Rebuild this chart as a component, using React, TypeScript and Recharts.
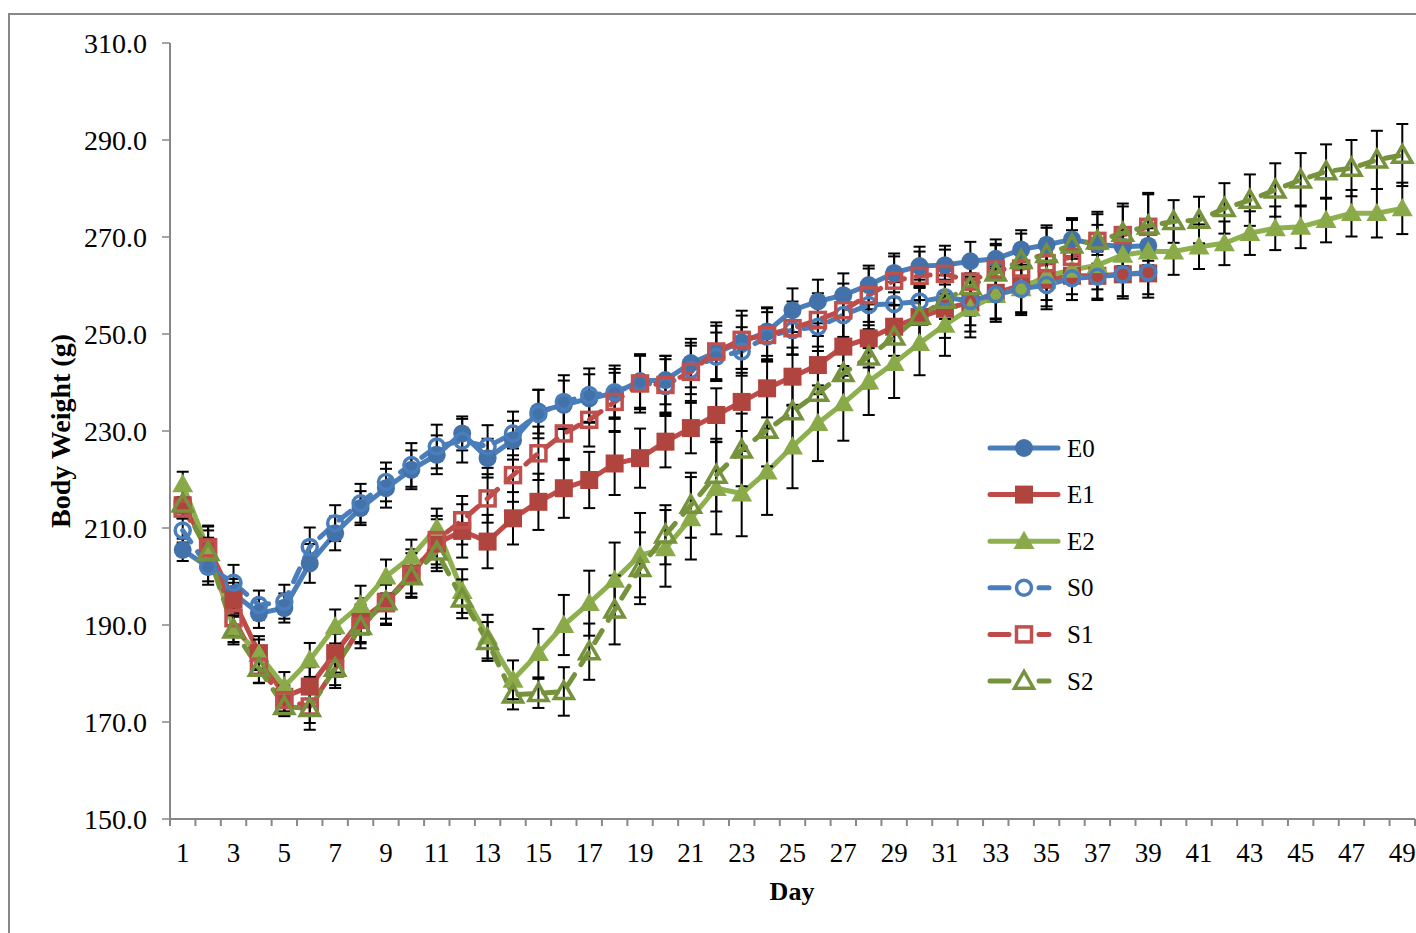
import { LineChart, Line, XAxis, YAxis, ErrorBar } from 'recharts';

const days = [
  1, 2, 3, 4, 5, 6, 7, 8, 9, 10, 11, 12, 13, 14, 15, 16, 17, 18, 19, 20, 21, 22, 23, 24, 25,
  26, 27, 28, 29, 30, 31, 32, 33, 34, 35, 36, 37, 38, 39, 40, 41, 42, 43, 44, 45, 46, 47, 48, 49,
];

const yTicks = [150, 170, 190, 210, 230, 250, 270, 290, 310];

const e0 = [
  205.5, 202, 196.5, 192.4, 193.5, 202.7, 208.9, 214.1, 218.2, 222, 225.1, 229.5, 224.4, 228.1,
  234.0, 235.4, 236.7, 237.8, 240.3, 240.5, 244.0, 246.2, 248.3, 250.5, 254.9, 256.7, 258.0,
  260.1, 262.6, 264.0, 264.2, 265.0, 265.5, 267.4, 268.4, 269.5, 268.5, 268.0, 268.2,
];
const e0Err = [
  2.3, 3.7, 3, 3, 3, 4, 3.5, 3.5, 4, 4, 4, 3.5, 4, 4, 4.5, 5, 5, 5, 5.5, 5, 5, 5.5, 5.5, 5, 4.5,
  4.5, 4.5, 4, 4, 4, 4, 4, 4, 4, 4, 4, 4, 4, 4,
];

const e1 = [
  214.7, 206.1, 195.2, 184.2, 175.2, 177.3, 184.2, 191.0, 194.8, 200.6, 206.8, 209.4, 207.2,
  212.0, 215.4, 218.2, 219.9, 223.3, 224.4, 227.8, 230.6, 233.3, 236.0, 238.8, 241.2, 243.6,
  247.4, 249.1, 251.5, 253.5, 255.2, 256.5, 258.5, 260.0, 261.2, 262.0, 262.0, 262.3, 262.5,
];
const e1Err = [
  1.5, 4.4, 3.5, 3.5, 3, 4, 4, 4.5, 4.5, 5, 5, 5.5, 5.5, 5.4, 5.8, 6.1, 5.8, 6.5, 6.1, 5.3, 5.2,
  5.5, 6, 6, 6, 6, 6, 6, 6, 6, 6, 6, 5.5, 5.5, 5.5, 5, 5, 5, 5,
];

const e2 = [
  219.0, 205.5, 189.5, 184.0, 177.3, 182.8, 189.7, 194.1, 200.0, 204.1, 210.0, 197.0, 187.6,
  178.7, 184.2, 190.0, 194.5, 199.3, 204.4, 205.8, 212.0, 218.2, 217.1, 221.6, 226.8, 231.6,
  235.7, 240.2, 244.0, 248.1, 251.9, 255.3, 258.0, 259.4, 262.0, 263.2, 264.2, 266.3, 267.0,
  267.0, 268.0, 268.7, 270.8, 271.8, 272.1, 273.5, 274.9, 274.9, 275.9,
];
const e2Err = [
  2.6, 4, 3, 3, 3, 3.5, 3.5, 4, 3.5, 3.5, 4, 4.5, 4.5, 4, 5, 6.2, 6.7, 7.7, 8.7, 7.9, 8.5, 9.5,
  8.8, 8.9, 8.6, 7.8, 7.7, 6.9, 7.2, 6.6, 6.4, 6, 5.5, 5.5, 5, 5, 5, 5, 4.8, 4.8, 4.6, 4.5, 4.5,
  4.5, 4.4, 4.6, 4.8, 5, 5.3,
];

const s0 = [
  209.5, 202, 198.7, 194.1, 194.8, 206.1, 211.0, 215.1, 219.5, 223.0, 226.8, 228.0, 226.8,
  229.5, 233.5, 236.0, 237.4, 238.0, 240.0, 239.3, 242.6, 245.3, 246.4, 249.5, 250.8, 251.5,
  253.9, 256.0, 256.2, 256.7, 257.6, 256.8, 258.2, 259.3, 260.1, 261.5, 261.8, 262.3, 262.7,
];
const s0Err = [
  2.5, 3, 3.7, 3, 3.5, 4, 3.7, 4, 4, 4.5, 4.5, 4.5, 4.4, 4.5, 5, 5.5, 5.5, 5.5, 5.5, 5.5, 5, 5,
  5, 5, 5, 5, 5, 5, 4.5, 4.5, 4.5, 5, 5, 5, 5, 4.5, 4.5, 4.5, 4.5,
];

const s1 = [
  214.0, 205.8, 191.4, 181.4, 174.5, 173.2, 181.0, 189.7, 194.5, 200.3, 207.5, 211.6, 216.1,
  220.9, 225.4, 229.5, 232.3, 236.0, 239.8, 239.5, 242.2, 246.4, 248.8, 249.8, 251.2, 252.9,
  254.9, 258.0, 261.0, 262.0, 262.4, 260.8, 263.3, 263.5, 264.6, 265.9, 269.2, 270.4, 272.1,
];
const s1Err = [
  2, 4.5, 3.5, 3.4, 3, 4.8, 4, 4.5, 4.5, 4.5, 5, 5, 5, 5.5, 5.5, 5.5, 5.5, 6, 6, 6, 6, 6, 6, 5.5,
  5.5, 5.5, 5.5, 5.5, 5, 5, 5, 5, 5, 5, 5, 5.5, 6, 6.5, 7,
];

const s2 = [
  215.0, 205.0, 189.0, 181.1, 173.2, 172.8, 181.1, 189.7, 194.8, 200.0, 205.1, 195.4, 186.6,
  175.6, 175.9, 176.3, 184.5, 193.1, 201.7, 208.6, 214.7, 220.9, 226.1, 230.2, 234.0, 237.8,
  241.9, 245.3, 249.4, 253.7, 257.0, 259.8, 262.6, 265.2, 266.4, 268.4, 269.2, 270.8, 272.3,
  273.2, 273.5, 275.9, 277.6, 279.7, 281.8, 283.5, 284.2, 285.9, 286.9,
];
const s2Err = [
  3, 3, 3, 3, 2, 3, 3.5, 3.5, 3.5, 3.5, 4, 4, 4, 3, 3, 5, 5.8, 7.1, 7.4, 6.1, 6.7, 7.5, 7.5, 7.5,
  7.5, 7, 7, 6.5, 6.5, 6, 6, 6, 6, 5.5, 5.5, 5.5, 5.5, 5.5, 6.5, 4.4, 4.8, 5.2, 5.3, 5.5, 5.5,
  5.6, 5.8, 6, 6.4,
];

const data = days.map((day, i) => ({
  day,
  E0: e0[i] ?? null,
  E0err: e0Err[i] ?? null,
  E1: e1[i] ?? null,
  E1err: e1Err[i] ?? null,
  E2: e2[i] ?? null,
  E2err: e2Err[i] ?? null,
  S0: s0[i] ?? null,
  S0err: s0Err[i] ?? null,
  S1: s1[i] ?? null,
  S1err: s1Err[i] ?? null,
  S2: s2[i] ?? null,
  S2err: s2Err[i] ?? null,
}));

const FONT = '"Liberation Serif", "DejaVu Serif", serif';
const AXIS = '#878787';
const BLUE = '#4A7EBB';
const RED = '#BE4B48';
const GREEN = '#8EB04F';
const DKGREEN = '#76923C';
const BAND = 1245 / 49;
const DASH = '14 12';

type Shape = 'circle' | 'square' | 'triangle';

interface MarkerProps {
  shape: Shape;
  filled: boolean;
  color: string;
  cx: number;
  cy: number;
}

const Marker = ({ shape, filled, color, cx, cy }: MarkerProps) => {
  const fill = filled ? color : 'none';
  const sw = filled ? 0 : 3.5;
  if (shape === 'circle') {
    return <circle cx={cx} cy={cy} r={filled ? 9 : 7.5} fill={fill} stroke={color} strokeWidth={sw} />;
  }
  if (shape === 'square') {
    const s = filled ? 18 : 15;
    return <rect x={cx - s / 2} y={cy - s / 2} width={s} height={s} fill={fill} stroke={color} strokeWidth={sw} />;
  }
  const h = filled ? 1.05 : 0.95;
  const pts = `${cx},${cy - 10 * h} ${cx - 10 * h},${cy + 7.5 * h} ${cx + 10 * h},${cy + 7.5 * h}`;
  return <polygon points={pts} fill={fill} stroke={color} strokeWidth={sw} strokeLinejoin="miter" />;
};

const makeDot = (shape: Shape, filled: boolean, color: string) => (props: any) => {
  const { cx, cy, index } = props;
  if (cx == null || cy == null || Number.isNaN(cy)) return <g key={index} />;
  return (
    <g key={index}>
      <Marker shape={shape} filled={filled} color={color} cx={cx} cy={cy} />
    </g>
  );
};

const series = [
  { key: 'E0', color: BLUE, mark: '#4372AA', shape: 'circle' as Shape, filled: true, dashed: false },
  { key: 'E1', color: RED, mark: '#B0443F', shape: 'square' as Shape, filled: true, dashed: false },
  { key: 'E2', color: GREEN, mark: '#8AAA4A', shape: 'triangle' as Shape, filled: true, dashed: false },
  { key: 'S0', color: BLUE, mark: '#4A7EBB', shape: 'circle' as Shape, filled: false, dashed: true },
  { key: 'S1', color: RED, mark: '#C0504D', shape: 'square' as Shape, filled: false, dashed: true },
  { key: 'S2', color: DKGREEN, mark: DKGREEN, shape: 'triangle' as Shape, filled: false, dashed: true },
];

const DayTick = (props: any) => {
  const { x, y, payload, index } = props;
  const half = BAND / 2;
  return (
    <g>
      <line x1={x - half} x2={x - half} y1={y} y2={y + 7} stroke={AXIS} strokeWidth={2} />
      {index === days.length - 1 && (
        <line x1={x + half} x2={x + half} y1={y} y2={y + 7} stroke={AXIS} strokeWidth={2} />
      )}
      {payload.value % 2 === 1 && (
        <text x={x} y={y + 43} textAnchor="middle" fontFamily={FONT} fontSize={27} fill="#000">
          {payload.value}
        </text>
      )}
    </g>
  );
};

const LegendBox = () => (
  <svg width={130} height={290}>
    {series.map((s, i) => {
      const cy = 23 + i * 46.6;
      return (
        <g key={s.key}>
          {s.dashed ? (
            <>
              <line x1={8} x2={27} y1={cy} y2={cy} stroke={s.color} strokeWidth={5} strokeLinecap="round" />
              <line x1={57} x2={67} y1={cy} y2={cy} stroke={s.color} strokeWidth={5} strokeLinecap="round" />
            </>
          ) : (
            <line x1={8} x2={76} y1={cy} y2={cy} stroke={s.color} strokeWidth={5} strokeLinecap="round" />
          )}
          <Marker shape={s.shape} filled={s.filled} color={s.mark} cx={42} cy={cy} />
          <text x={85} y={cy} dominantBaseline="central" fontFamily={FONT} fontSize={25} fill="#000">
            {s.key}
          </text>
        </g>
      );
    })}
  </svg>
);

export default function App() {
  return (
    <div
      style={{
        position: 'fixed',
        left: 0,
        top: 0,
        width: 1416,
        height: 933,
        overflow: 'hidden',
        background: '#fff',
      }}
    >
      <div
        style={{
          position: 'absolute',
          left: 8,
          top: 13,
          width: 1440,
          height: 960,
          border: `2px solid ${AXIS}`,
        }}
      />
      <div style={{ position: 'absolute', left: 0, top: 0 }}>
        <LineChart width={1416} height={933} data={data} margin={{ top: 43, right: 1, bottom: 0, left: 0 }}>
          <XAxis
            dataKey="day"
            type="category"
            interval={0}
            height={114}
            padding={{ left: BAND / 2, right: BAND / 2 }}
            tickSize={0}
            tickMargin={0}
            tickLine={false}
            axisLine={{ stroke: AXIS, strokeWidth: 2 }}
            tick={<DayTick />}
            label={{
              content: () => (
                <text x={792} y={900} textAnchor="middle" fontFamily={FONT} fontSize={26} fontWeight="bold" fill="#000">
                  Day
                </text>
              ),
            }}
          />
          <YAxis
            type="number"
            domain={[150, 310]}
            ticks={yTicks}
            interval={0}
            width={170}
            tickSize={8}
            tickMargin={15}
            tickFormatter={(v: number) => v.toFixed(1)}
            tick={{ fontFamily: FONT, fontSize: 28, fill: '#000' }}
            tickLine={{ stroke: AXIS, strokeWidth: 1.5 }}
            axisLine={{ stroke: AXIS, strokeWidth: 2 }}
            label={{
              content: () => (
                <text
                  x={60}
                  y={431}
                  transform="rotate(-90 60 431)"
                  textAnchor="middle"
                  dominantBaseline="central"
                  fontFamily={FONT}
                  fontSize={28}
                  fontWeight="bold"
                  fill="#000"
                >
                  Body Weight (g)
                </text>
              ),
            }}
          />
          {series.map(s => (
            <Line
              key={s.key}
              dataKey={s.key}
              type="linear"
              stroke={s.color}
              strokeWidth={5}
              strokeDasharray={s.dashed ? DASH : undefined}
              strokeLinecap="round"
              dot={makeDot(s.shape, s.filled, s.mark)}
              activeDot={false}
              isAnimationActive={false}
              legendType="none"
            >
              <ErrorBar dataKey={`${s.key}err`} direction="y" width={6} stroke="#000" strokeWidth={2} />
            </Line>
          ))}
        </LineChart>
      </div>
      <div style={{ position: 'absolute', left: 982, top: 425 }}>
        <LegendBox />
      </div>
    </div>
  );
}
